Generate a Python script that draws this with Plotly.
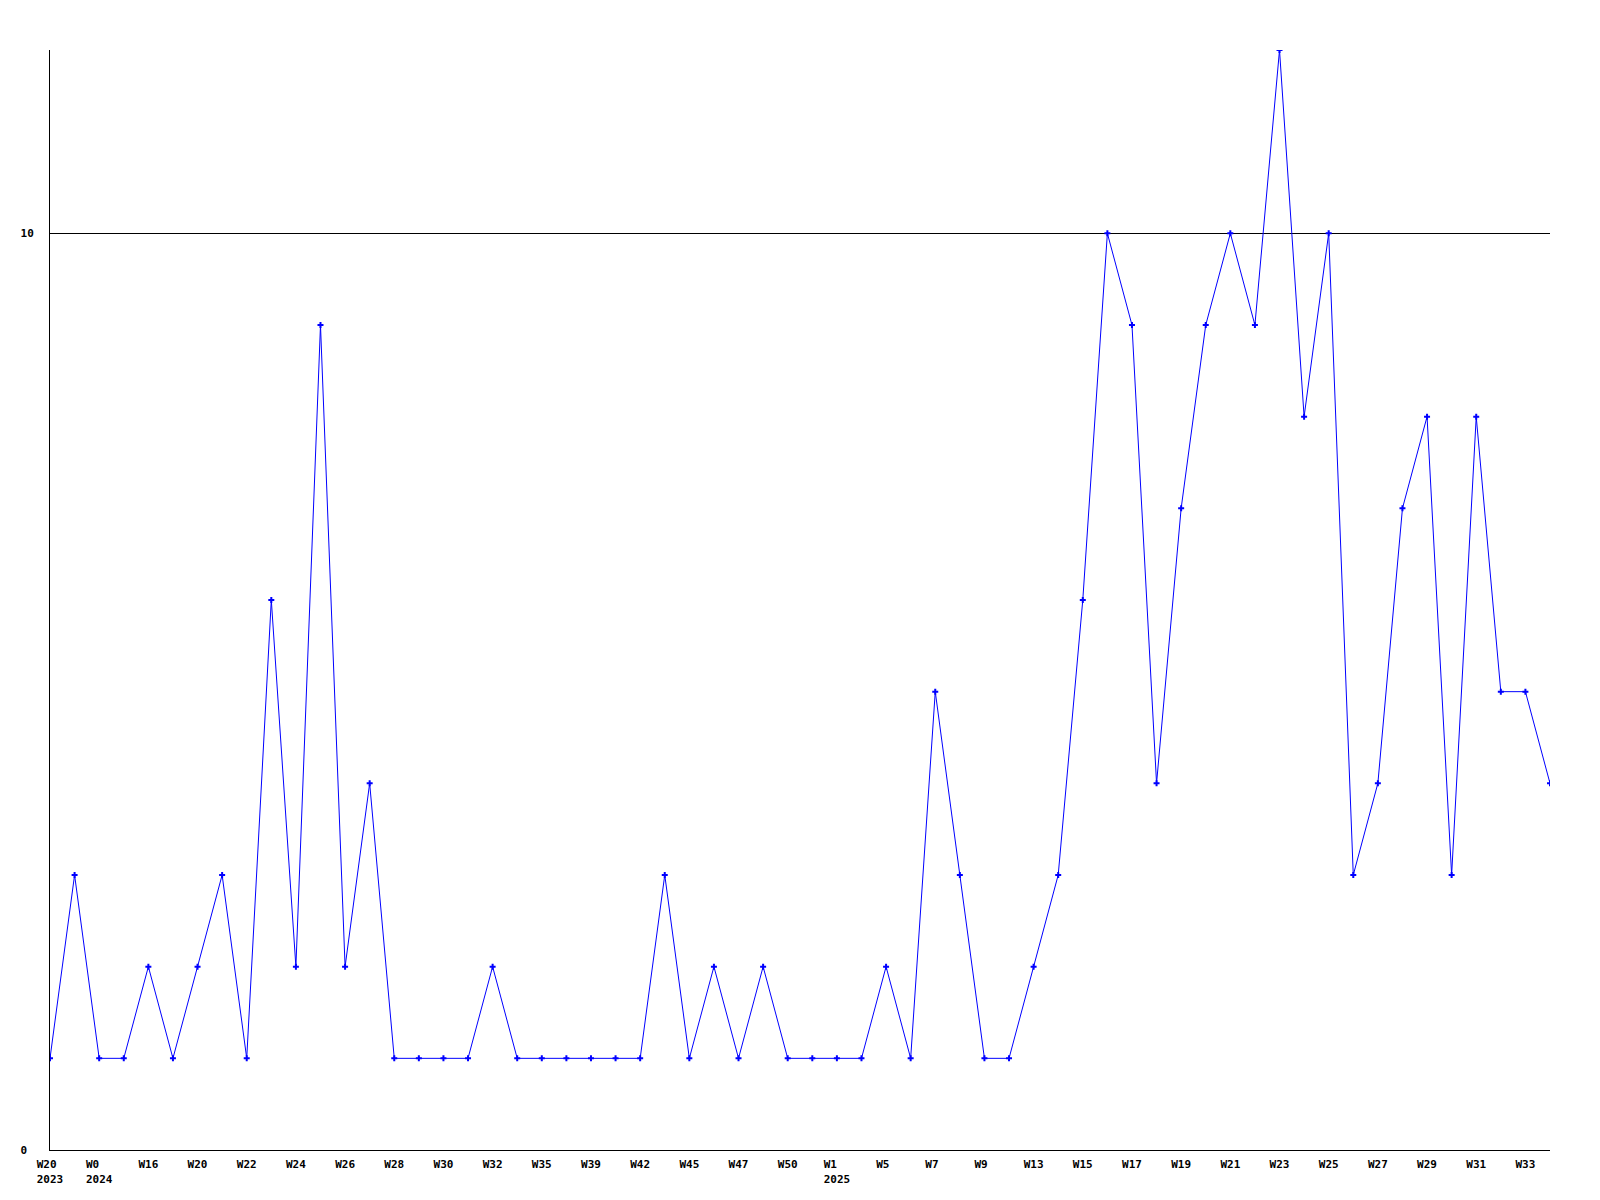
import plotly.graph_objects as go

# Data (weekly counts, evenly spaced points)
point_index = list(range(62))
values = [1, 3, 1, 1, 2, 1, 2, 3, 1, 6, 2, 9, 2, 4, 1, 1, 1, 1, 2, 1,
          1, 1, 1, 1, 1, 3, 1, 2, 1, 2, 1, 1, 1, 1, 2, 1, 5, 3, 1, 1,
          2, 3, 6, 10, 9, 4, 7, 9, 10, 9, 12, 8, 10, 3, 4, 7, 8, 3, 8, 5,
          5, 4]

# one label on every second point
tick_labels = ["W20\u00a0<br>2023", "W0\u00a0\u00a0<br>2024", "W16", "W20", "W22", "W24", "W26",
               "W28", "W30", "W32", "W35", "W39", "W42", "W45", "W47", "W50",
               "W1\u00a0\u00a0<br>2025", "W5\u00a0", "W7\u00a0", "W9\u00a0", "W13", "W15", "W17", "W19",
               "W21", "W23", "W25", "W27", "W29", "W31", "W33"]
tick_pos = point_index[::2]

y_ticks = [0, 10]
y_tick_text = ["0\u00a0", "10"]

fig = go.Figure()
fig.add_trace(go.Scatter(
    x=point_index, y=values, mode="lines+markers",
    line=dict(color="#0000FF", width=1),
    marker=dict(symbol="cross", size=5, color="#0000FF", line=dict(width=0)),
    showlegend=False, hoverinfo="skip",
))

tickfont = dict(family="DejaVu Sans Mono", size=11, color="black", weight="bold")

fig.update_layout(
    width=1600, height=1200,
    margin=dict(l=42, r=58, t=42, b=58, autoexpand=False),
    paper_bgcolor="white", plot_bgcolor="white",
    xaxis=dict(range=[0, 61], tickmode="array", tickvals=tick_pos, ticktext=tick_labels,
               showgrid=False, zeroline=False, showline=True, linecolor="black", linewidth=1,
               ticks="", tickfont=tickfont, ticklabelstandoff=4, automargin=False),
    yaxis=dict(range=[0, 12], tickmode="array", tickvals=y_ticks, ticktext=y_tick_text,
               showgrid=True, gridcolor="black", gridwidth=1, zeroline=False,
               showline=True, linecolor="black", linewidth=1, ticks="",
               tickfont=tickfont, ticklabelstandoff=13, automargin=False),
)

fig.write_html("out.html")
